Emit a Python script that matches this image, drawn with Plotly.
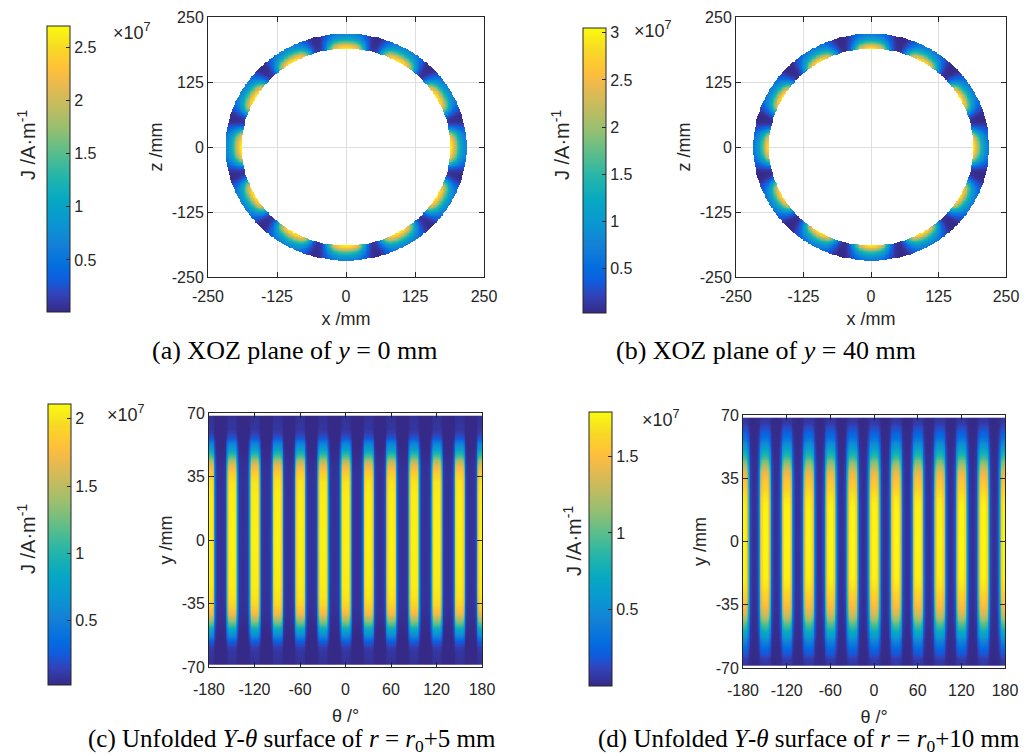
import numpy as np
import plotly.graph_objects as go

W, H = 1032, 756

# ---------------- data (current density J in units of 1e7 A/m) ----------------
pole_pitch_deg = 30          # 12 poles around the circumference

# (a) XOZ plane, y = 0 mm : ring profiles
a_phi_offset = [0, 3, 6, 8, 10, 12, 13.5, 15]          # deg from pole centre
a_phi_gain   = [1.0, 0.97, 0.85, 0.65, 0.40, 0.15, 0.05, 0.03]
a_r          = [189, 193, 197, 202, 208, 213, 218]      # mm
a_r_value    = [2.65, 2.45, 2.00, 1.50, 1.05, 0.80, 0.65]
a_cmin, a_cmax = 0.01, 2.70
a_cticks = [0.5, 1, 1.5, 2, 2.5]

# (b) XOZ plane, y = 40 mm
b_phi_offset = [0, 3, 6, 8, 10, 12, 13.5, 15]
b_phi_gain   = [1.0, 0.95, 0.80, 0.58, 0.33, 0.12, 0.04, 0.03]
b_r          = [189, 193, 197, 202, 208, 213, 218]
b_r_value    = [3.00, 2.65, 2.10, 1.55, 1.10, 0.82, 0.65]
b_cmin, b_cmax = 0.03, 3.05
b_cticks = [0.5, 1, 1.5, 2, 2.5, 3]

# (c) unfolded Y-theta surface, r = r0 + 5 mm
c_theta_offset = [0, 3, 4.5, 5.5, 6.5, 7.5, 8.5, 10, 15]
c_theta_value  = [2.08, 2.06, 1.98, 1.70, 1.00, 0.45, 0.15, 0.08, 0.06]
c_y            = [0, 25, 32, 35, 38, 41, 44, 47, 50, 53, 56, 59, 62, 68]
c_y_gain       = [1.0, 0.99, 0.97, 0.94, 0.89, 0.82, 0.68, 0.52, 0.37, 0.26, 0.12, 0.06, 0.04, 0.03]
c_cmin, c_cmax = 0.02, 2.11
c_cticks = [0.5, 1, 1.5, 2]

# (d) unfolded Y-theta surface, r = r0 + 10 mm
d_theta_offset = [0, 3, 5, 6.5, 7.5, 8.5, 10, 12, 15]
d_theta_value  = [1.79, 1.76, 1.60, 1.25, 0.75, 0.35, 0.12, 0.05, 0.03]
d_y            = [0, 20, 25, 30, 36, 40, 44, 48, 51, 55, 58, 62, 65, 68]
d_y_gain       = [1.0, 0.99, 0.96, 0.91, 0.84, 0.76, 0.62, 0.47, 0.38, 0.25, 0.17, 0.10, 0.05, 0.03]
d_cmin, d_cmax = 0.0, 1.79
d_cticks = [0.5, 1, 1.5]

ring_ticks = [-250, -125, 0, 125, 250]
theta_ticks = [-180, -120, -60, 0, 60, 120, 180]
y_ticks = [-70, -35, 0, 35, 70]

# ---------------- style ----------------
parula = [
    [0.2081, 0.1663, 0.5292], [0.1959, 0.2645, 0.7279], [0.0591, 0.3598, 0.8683],
    [0.0165, 0.4266, 0.8786], [0.0779, 0.5040, 0.8384], [0.0343, 0.5966, 0.8199],
    [0.0267, 0.6642, 0.7607], [0.1453, 0.7098, 0.6646], [0.3482, 0.7424, 0.5473],
    [0.5709, 0.7485, 0.4494], [0.7525, 0.7384, 0.3768], [0.9139, 0.7258, 0.3063],
    [0.9938, 0.7455, 0.2403], [0.9955, 0.7861, 0.1967], [0.9697, 0.8481, 0.1475],
    [0.9763, 0.9831, 0.0538]]
parula_idx = [0, 4, 7, 10, 15, 20, 25, 30, 35, 40, 45, 50, 53, 55, 58, 63]
colorscale = [[i / 63, "rgb(%d,%d,%d)" % tuple(round(255 * v) for v in c)]
              for i, c in zip(parula_idx, parula)]

INK = "#262626"
SANS = "Liberation Sans, Arial, Helvetica, sans-serif"
SERIF = "Liberation Serif, Times New Roman, serif"


def px_x(p):
    return p / W


def px_y(p):
    return 1 - p / H


def fmt(t):
    return ("%g" % t).replace("−", "-")


def pole_offset(angle_deg):
    half = pole_pitch_deg / 2
    return np.abs(((angle_deg + half) % pole_pitch_deg) - half)


def ring_field(phi_off, phi_gain, rr, rval):
    g = np.arange(-222, 222.01, 1.5)
    X, Z = np.meshgrid(g, g)
    R = np.hypot(X, Z)
    PHI = np.degrees(np.arctan2(Z, X))
    val = np.interp(pole_offset(PHI), phi_off, phi_gain) * np.interp(R, rr, rval)
    val = np.where((R >= rr[0]) & (R <= rr[-1]), val, np.nan)
    return g, val


def unfolded_field(th_off, th_val, yy, ygain):
    theta = np.arange(-180, 180.01, 1.0)
    yv = np.arange(-68, 68.01, 1.0)
    z = np.outer(np.interp(np.abs(yv), yy, ygain),
                 np.interp(pole_offset(theta), th_off, th_val))
    return theta, yv, z


def cbar(left, top, bottom, ticks):
    return dict(x=px_x(left), xanchor="left", xpad=0, ypad=0,
                y=px_y((top + bottom) / 2), yanchor="middle",
                len=(bottom - top) / H, lenmode="fraction",
                thickness=23, thicknessmode="pixels",
                outlinewidth=1, outlinecolor=INK,
                ticks="inside", ticklen=4, tickcolor=INK,
                tickvals=ticks, ticktext=[fmt(t) for t in ticks],
                tickfont=dict(family=SANS, size=16, color=INK))


fig = go.Figure()

ga, za = ring_field(a_phi_offset, a_phi_gain, a_r, a_r_value)
fig.add_trace(go.Heatmap(x=ga, y=ga, z=za, xaxis="x", yaxis="y",
                         colorscale=colorscale, zmin=a_cmin, zmax=a_cmax,
                         zsmooth=False, colorbar=cbar(47, 26, 312, a_cticks),
                         name="(a)", hoverongaps=False))
gb, zb = ring_field(b_phi_offset, b_phi_gain, b_r, b_r_value)
fig.add_trace(go.Heatmap(x=gb, y=gb, z=zb, xaxis="x2", yaxis="y2",
                         colorscale=colorscale, zmin=b_cmin, zmax=b_cmax,
                         zsmooth=False, colorbar=cbar(583, 28, 313, b_cticks),
                         name="(b)", hoverongaps=False))
tc, yc, zc = unfolded_field(c_theta_offset, c_theta_value, c_y, c_y_gain)
fig.add_trace(go.Heatmap(x=tc, y=yc, z=zc, xaxis="x3", yaxis="y3",
                         colorscale=colorscale, zmin=c_cmin, zmax=c_cmax,
                         zsmooth="best", colorbar=cbar(48, 404, 685, c_cticks),
                         name="(c)"))
td, yd, zd = unfolded_field(d_theta_offset, d_theta_value, d_y, d_y_gain)
fig.add_trace(go.Heatmap(x=td, y=yd, z=zd, xaxis="x4", yaxis="y4",
                         colorscale=colorscale, zmin=d_cmin, zmax=d_cmax,
                         zsmooth="best", colorbar=cbar(589, 412, 686, d_cticks),
                         name="(d)"))

common = dict(showline=True, linecolor=INK, linewidth=1, mirror="ticks",
              ticks="inside", ticklen=5, tickcolor=INK, zeroline=False,
              tickfont=dict(family=SANS, size=16, color=INK))
tfont = dict(family=SANS, size=18, color=INK)


def xax(left, right, rng, ticks, anchor, title, grid, lab_off, title_off):
    return dict(common, domain=[px_x(left), px_x(right)], range=rng,
                tickvals=ticks, ticktext=[fmt(t) for t in ticks],
                ticklabelstandoff=lab_off,
                anchor=anchor, showgrid=grid, gridcolor="#dedede", gridwidth=1,
                title=dict(text=title, font=tfont, standoff=title_off))


def yax(top, bottom, rng, ticks, anchor, title, grid):
    return dict(common, domain=[px_y(bottom), px_y(top)], range=rng,
                tickvals=ticks, ticktext=[fmt(t) for t in ticks],
                anchor=anchor, showgrid=grid, gridcolor="#dedede", gridwidth=1,
                title=dict(text=title, font=tfont, standoff=4))


fig.update_layout(
    width=W, height=H, margin=dict(l=0, r=0, t=0, b=0, autoexpand=False),
    paper_bgcolor="white", plot_bgcolor="white", showlegend=False,
    xaxis=xax(208, 484, [-250, 250], ring_ticks, "y", "x /mm", True, 5, 8),
    yaxis=yax(17, 277, [-250, 250], ring_ticks, "x", "z /mm", True),
    xaxis2=xax(736, 1006, [-250, 250], ring_ticks, "y2", "x /mm", True, 5, 8),
    yaxis2=yax(17, 277, [-250, 250], ring_ticks, "x2", "z /mm", True),
    xaxis3=xax(209, 482, [-180, 180], theta_ticks, "y3", "θ /°", False, 8, 12),
    yaxis3=yax(413, 667, [-70, 70], y_ticks, "x3", "y /mm", False),
    xaxis4=xax(743, 1005, [-180, 180], theta_ticks, "y4", "θ /°", False, 8, 12),
    yaxis4=yax(415, 668, [-70, 70], y_ticks, "x4", "y /mm", False),
)

ann = []
for cx, cy in [(26, 145), (560, 145), (26, 539), (572, 541)]:
    ann.append(dict(x=px_x(cx), y=px_y(cy), xref="paper", yref="paper",
                    text="J /A·m<sup>-1</sup>", textangle=-90, showarrow=False,
                    font=dict(family=SANS, size=20, color=INK),
                    xanchor="center", yanchor="middle"))
for cx, cy in [(132, 31), (653, 30), (126, 413), (661, 419)]:
    ann.append(dict(x=px_x(cx), y=px_y(cy), xref="paper", yref="paper",
                    text="×10<sup>7</sup>", showarrow=False,
                    font=dict(family=SANS, size=18, color=INK),
                    xanchor="center", yanchor="middle"))
captions = [
    (294, 350, "(a) XOZ plane of <i>y</i> = 0 mm", 26),
    (766, 350, "(b) XOZ plane of <i>y</i> = 40 mm", 26),
    (292, 740, "(c) Unfolded <i>Y</i>-<i>θ</i> surface of <i>r</i> = <i>r</i><sub>0</sub>+5 mm", 25),
    (809, 740, "(d) Unfolded <i>Y</i>-<i>θ</i> surface of <i>r</i> = <i>r</i><sub>0</sub>+10 mm", 25),
]
for cx, cy, txt, fs in captions:
    ann.append(dict(x=px_x(cx), y=px_y(cy), xref="paper", yref="paper",
                    text=txt, showarrow=False,
                    font=dict(family=SERIF, size=fs, color="black"),
                    xanchor="center", yanchor="middle"))
fig.update_layout(annotations=ann)

fig.write_html("out.html", config={"displayModeBar": False},
               post_script="document.body.style.margin='0';"
                           "document.body.style.overflow='hidden';")
